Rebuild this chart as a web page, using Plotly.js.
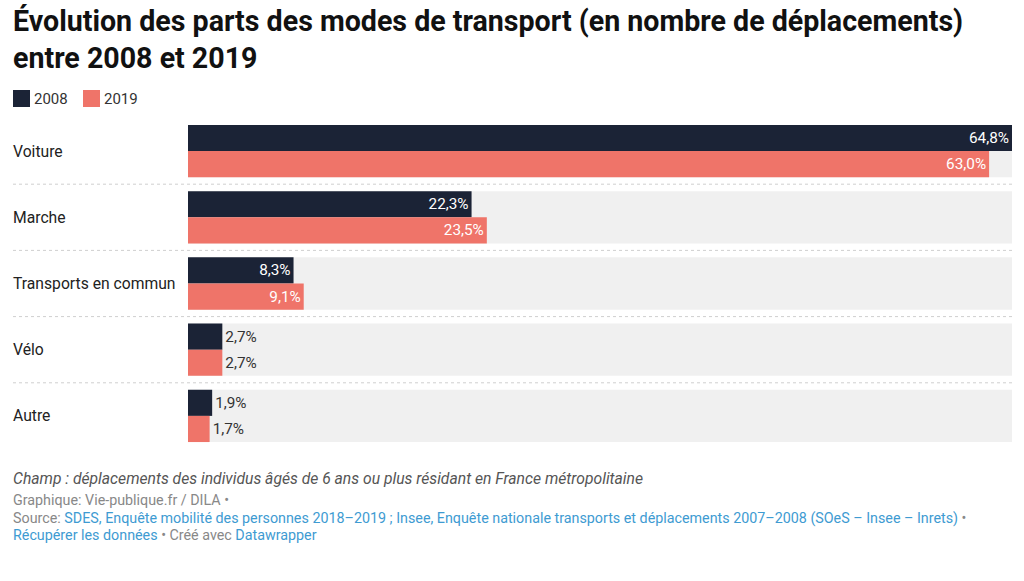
<!DOCTYPE html>
<html><head><meta charset="utf-8">
<script src="https://cdn.plot.ly/plotly-3.0.1.min.js"></script>
<style>html,body{margin:0;padding:0;background:#fff}#chart{width:1024px;height:581px}</style>
</head><body><div id="chart"></div>
<script>
const categories = ["Voiture", "Marche", "Transports en commun", "Vélo", "Autre"];
const values2008 = [64.8, 22.3, 8.3, 2.7, 1.9];
const values2019 = [63.0, 23.5, 9.1, 2.7, 1.7];
const seriesNames = ["2008", "2019"];
const colors = ["#1b2336", "#ef7469"];

const W = 1024, H = 581;
const mL = 188, mR = 12, mT = 118, mB = 132;
const pw = W - mL - mR, ph = H - mT - mB;
const px = x => (x - mL) / pw;
const py = y => (H - mB - y) / ph;

const fmt = v => v.toFixed(1).replace('.', ',') + '%';
const maxV = Math.max(...values2008, ...values2019);
const thr = 5;

function mk(vals, name, color) {
  return {
    type: 'bar', orientation: 'h', name: name,
    x: vals, y: categories,
    marker: {color: color, line: {width: 0}},
    text: vals.map(fmt),
    textposition: vals.map(v => v > thr ? 'inside' : 'outside'),
    insidetextanchor: 'end',
    insidetextfont: {family: 'Roboto', size: 15.3, color: '#ffffff'},
    outsidetextfont: {family: 'Roboto', size: 15.3, color: '#333333'},
    constraintext: 'none', cliponaxis: false,
    hoverinfo: 'none', showlegend: false
  };
}
const data = [mk(values2008, seriesNames[0], colors[0]), mk(values2019, seriesNames[1], colors[1])];

const shapes = [];
const annotations = [];
categories.forEach((c, i) => {
  shapes.push({type: 'rect', layer: 'below', xref: 'x', yref: 'y', x0: 0, x1: maxV,
    y0: i - 0.395, y1: i + 0.395, fillcolor: '#f0f0f0', line: {width: 0}});
  if (i < categories.length - 1) {
    shapes.push({type: 'line', xref: 'paper', yref: 'y', x0: px(13), x1: 1, y0: i + 0.5, y1: i + 0.5,
      line: {color: '#cfcfcf', width: 1, dash: 'dot'}});
  }
  annotations.push({xref: 'paper', yref: 'y', x: px(11), y: c, xanchor: 'left', yanchor: 'middle',
    text: c, showarrow: false, font: {family: 'Roboto', size: 15.7, color: '#222'}});
});

// legend
seriesNames.forEach((n, k) => {
  const x0 = k === 0 ? 13 : 83;
  shapes.push({type: 'rect', xref: 'paper', yref: 'paper', x0: px(x0), x1: px(x0 + 17), y0: py(107), y1: py(90),
    fillcolor: colors[k], line: {width: 0}});
  annotations.push({xref: 'paper', yref: 'paper', x: px(x0 + 19), y: py(98.5), xanchor: 'left', yanchor: 'middle',
    text: n, showarrow: false, font: {family: 'Roboto', size: 15, color: '#333'}});
});

// title
annotations.push({xref: 'paper', yref: 'paper', x: px(11), y: py(2), xanchor: 'left', yanchor: 'top', align: 'left',
  text: '<b>Évolution des parts des modes de transport (en nombre de déplacements)<br>entre 2008 et 2019</b>',
  showarrow: false, font: {family: 'Roboto', size: 28.6, color: '#111'}});

// footer
const link = '#3e9bd2';
const foot = [
  {y: 478, size: 15.7, color: '#555', text: '<i>Champ : déplacements des individus âgés de 6 ans ou plus résidant en France métropolitaine</i>'},
  {y: 500, size: 14.3, color: '#888', text: 'Graphique: Vie-publique.fr / DILA •'},
  {y: 518, size: 14.3, color: '#888', text: 'Source: <span style="color:' + link + '">SDES, Enquête mobilité des personnes 2018–2019 ; Insee, Enquête nationale transports et déplacements 2007–2008 (SOeS – Insee – Inrets)</span> •'},
  {y: 535, size: 14.3, color: '#888', text: '<span style="color:' + link + '">Récupérer les données</span> • Créé avec <span style="color:' + link + '">Datawrapper</span>'}
];
foot.forEach(f => annotations.push({xref: 'paper', yref: 'paper', x: px(11), y: py(f.y), xanchor: 'left', yanchor: 'middle',
  text: f.text, showarrow: false, font: {family: 'Roboto', size: f.size, color: f.color}}));

const layout = {
  width: W, height: H,
  margin: {l: mL, r: mR, t: mT, b: mB, pad: 0},
  paper_bgcolor: '#fff', plot_bgcolor: '#fff',
  barmode: 'group', bargap: 0.21, bargroupgap: 0,
  xaxis: {range: [0, maxV], visible: false, fixedrange: true},
  yaxis: {type: 'category', autorange: 'reversed', showticklabels: false, showgrid: false, zeroline: false, ticks: '', fixedrange: true},
  shapes: shapes, annotations: annotations, showlegend: false
};
Plotly.newPlot('chart', data, layout, {displayModeBar: false, staticPlot: true});
</script></body></html>
